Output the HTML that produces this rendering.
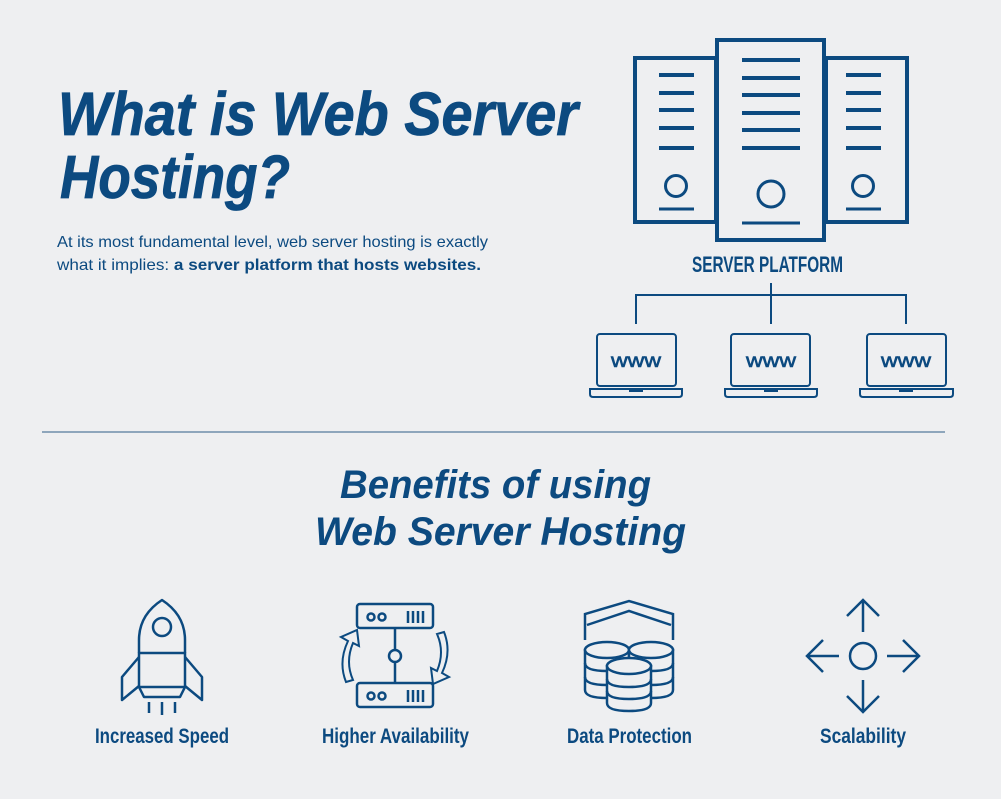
<!DOCTYPE html>
<html><head><style>
html,body{margin:0;padding:0;background:#eeeff1;}
svg{display:block;}
</style></head><body>
<svg width="1001" height="799" viewBox="0 0 1001 799" xmlns="http://www.w3.org/2000/svg" font-family="Liberation Sans, sans-serif">
<rect width="1001" height="799" fill="#eeeff1"/>
<g fill="#0c4a80">
<text x="58" y="135" font-size="61" font-weight="bold" font-style="italic" textLength="520" lengthAdjust="spacingAndGlyphs" stroke="#0c4a80" stroke-width="0.8">What is Web Server</text>
<text x="60" y="198" font-size="61" font-weight="bold" font-style="italic" textLength="230" lengthAdjust="spacingAndGlyphs" stroke="#0c4a80" stroke-width="0.8">Hosting?</text>
<text x="57" y="247" font-size="16" textLength="431" lengthAdjust="spacingAndGlyphs">At its most fundamental level, web server hosting is exactly</text>
<text x="57" y="270" font-size="16" textLength="424" lengthAdjust="spacingAndGlyphs">what it implies: <tspan font-weight="bold">a server platform that hosts websites.</tspan></text>
<text x="692" y="272" font-size="22" font-weight="bold" textLength="151" lengthAdjust="spacingAndGlyphs">SERVER PLATFORM</text>
<text x="340" y="498" font-size="40" font-weight="bold" font-style="italic" textLength="311" lengthAdjust="spacingAndGlyphs">Benefits of using</text>
<text x="315" y="545" font-size="40" font-weight="bold" font-style="italic" textLength="371" lengthAdjust="spacingAndGlyphs">Web Server Hosting</text>
<text x="95" y="743" font-size="21" textLength="134" lengthAdjust="spacingAndGlyphs" font-weight="bold">Increased Speed</text>
<text x="322" y="743" font-size="21" textLength="147" lengthAdjust="spacingAndGlyphs" font-weight="bold">Higher Availability</text>
<text x="567" y="743" font-size="21" textLength="125" lengthAdjust="spacingAndGlyphs" font-weight="bold">Data Protection</text>
<text x="820" y="743" font-size="21" textLength="86" lengthAdjust="spacingAndGlyphs" font-weight="bold">Scalability</text>
<g font-size="19" stroke="#0c4a80" stroke-width="0.6">
<text x="636" y="367" text-anchor="middle" textLength="50" lengthAdjust="spacingAndGlyphs">www</text>
<text x="771" y="367" text-anchor="middle" textLength="50" lengthAdjust="spacingAndGlyphs">www</text>
<text x="906" y="367" text-anchor="middle" textLength="50" lengthAdjust="spacingAndGlyphs">www</text>
</g>
</g>
<g fill="none" stroke="#0c4a80">
<g stroke-width="4">
<rect x="635" y="58" width="81" height="164"/>
<rect x="826" y="58" width="81" height="164"/>
<rect x="717" y="40" width="107" height="200"/>
</g>
<g stroke-width="4">
<path d="M659 75H694M659 93H694M659 110H694M659 128H694M659 148H694"/>
<path d="M742 60H800M742 78H800M742 95H800M742 113H800M742 130H800M742 148H800"/>
<path d="M846 75H881M846 93H881M846 110H881M846 128H881M846 148H881"/>
<path d="M659 209H694M742 223H800M846 209H881" stroke-width="3"/>
<circle cx="676" cy="186" r="10.5" stroke-width="3"/>
<circle cx="771" cy="194" r="13" stroke-width="3"/>
<circle cx="863" cy="186" r="10.5" stroke-width="3"/>
</g>
<path d="M771 283V324M636 324V295H906V324" stroke-width="2"/>
<g stroke-width="2">
<rect x="597" y="334" width="79" height="52" rx="3"/>
<rect x="731" y="334" width="79" height="52" rx="3"/>
<rect x="867" y="334" width="79" height="52" rx="3"/>
<path d="M590 389H682V394Q682 397 679 397H593Q590 397 590 394Z M630 389V391H642V389"/>
<path d="M725 389H817V394Q817 397 814 397H728Q725 397 725 394Z M765 389V391H777V389"/>
<path d="M860 389H953V394Q953 397 950 397H863Q860 397 860 394Z M900 389V391H912V389"/>
</g>
<path d="M42 432H945" stroke="#6f8eab" stroke-width="1.5"/>
<g stroke-width="2.5" stroke-linejoin="round">
<path d="M139 653V640Q139 615 162 600Q185 615 185 640V653"/>
<rect x="139" y="653" width="46" height="34"/>
<circle cx="162" cy="627" r="9"/>
<path d="M139 657L122 677V700L139 686M185 657L202 677V700L185 686"/>
<path d="M139 687L144 697H180L185 687"/>
<path d="M149 702V713M162 702V715M175 702V713"/>
</g>
<g stroke-width="2.5">
<rect x="357" y="604" width="76" height="24" rx="3"/>
<rect x="357" y="683" width="76" height="24" rx="3"/>
<circle cx="371" cy="617" r="3.5"/><circle cx="382" cy="617" r="3.5"/>
<circle cx="371" cy="696" r="3.5"/><circle cx="382" cy="696" r="3.5"/>
<path d="M408 611V623M413 611V623M418 611V623M423 611V623M408 690V702M413 690V702M418 690V702M423 690V702"/>
<path d="M395 628V650M395 662V683"/>
<circle cx="395" cy="656" r="6"/>
<path d="M346 682Q338 662 348 641L341 637L357 630L359 646L353 643Q345 662 353 680Z" stroke-width="2"/>
<path d="M444 632Q452 652 442 673L449 677L433 684L431 668L437 671Q445 652 437 634Z" stroke-width="2"/>
</g>
<g stroke-width="2.5" fill="#eeeff1">
<path d="M585 640V614L629 601L673 614V640M587 625L629 611L671 625" fill="none"/>
<path d="M585 650V690Q585 698 607 698Q629 698 629 690V650Z"/>
<ellipse cx="607" cy="650" rx="22" ry="8"/>
<path d="M585 663Q585 671 607 671Q629 671 629 663M585 677Q585 685 607 685Q629 685 629 677" fill="none"/>
<path d="M629 650V690Q629 698 651 698Q673 698 673 690V650Z"/>
<ellipse cx="651" cy="650" rx="22" ry="8"/>
<path d="M629 663Q629 671 651 671Q673 671 673 663M629 677Q629 685 651 685Q673 685 673 677" fill="none"/>
<path d="M607 666V703Q607 711 629 711Q651 711 651 703V666Z"/>
<ellipse cx="629" cy="666" rx="22" ry="8"/>
<path d="M607 679Q607 687 629 687Q651 687 651 679M607 691Q607 699 629 699Q651 699 651 691" fill="none"/>
</g>
<g stroke-width="2.5">
<circle cx="863" cy="656" r="13"/>
<path d="M863 632V600M847 616L863 600L879 616"/>
<path d="M863 680V712M847 696L863 712L879 696"/>
<path d="M839 656H807M823 640L807 656L823 672"/>
<path d="M887 656H919M903 640L919 656L903 672"/>
</g>
</g>
</svg>
</body></html>
